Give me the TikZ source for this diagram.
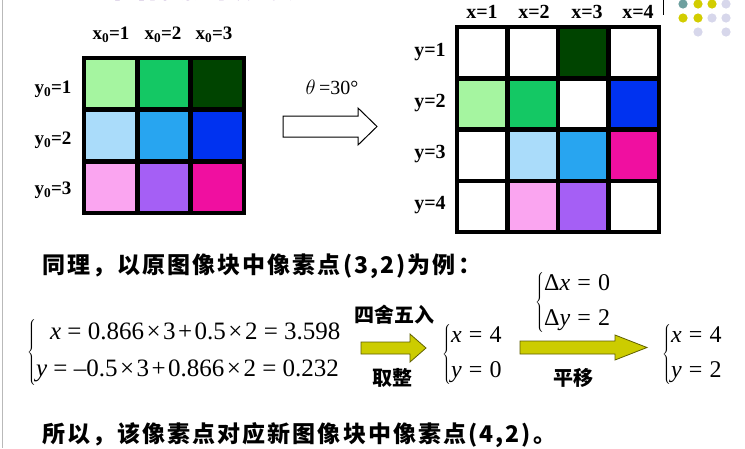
\documentclass[tikz,border=0pt]{standalone}
\usepackage{fontspec}
\setmainfont{Liberation Serif}
\newfontfamily\cjk{Noto Sans CJK SC}
\newfontfamily\cjksp{Noto Sans CJK SC}[LetterSpace=9]
\definecolor{titlepurple}{RGB}{85,30,140}
\definecolor{cLG}{RGB}{165,245,160}
\definecolor{cMG}{RGB}{20,200,100}
\definecolor{cDG}{RGB}{0,68,0}
\definecolor{cLB}{RGB}{170,220,250}
\definecolor{cSB}{RGB}{40,165,240}
\definecolor{cBL}{RGB}{0,50,240}
\definecolor{cLP}{RGB}{250,165,240}
\definecolor{cPU}{RGB}{165,95,245}
\definecolor{cMA}{RGB}{240,15,160}
\definecolor{arrowyellow}{RGB}{204,204,0}
\definecolor{arrowborder}{RGB}{95,95,0}
\definecolor{dotteal}{RGB}{110,160,160}
\definecolor{dotyellow}{RGB}{210,205,0}
\definecolor{dotlav}{RGB}{215,215,235}
\newcommand\qeq{\hspace{0.25em}=\hspace{0.25em}}
\newcommand\qop[1]{\hspace{0.1em}#1\hspace{0.1em}}
\newcommand\weq{\hspace{0.3em}=\hspace{0.3em}}
\begin{document}
\begin{tikzpicture}[x=1pt,y=-1pt,
  glab/.style={font=\bfseries\fontsize{19}{19}\selectfont, inner sep=0pt},
  rlab/.style={font=\bfseries\fontsize{20}{20}\selectfont, inner sep=0pt},
  cjkline/.style={font=\cjksp\bfseries\fontsize{23}{23}\selectfont, inner sep=0pt, anchor=west},
  cjksmall/.style={font=\cjk\bfseries\fontsize{20}{20}\selectfont, inner sep=0pt},
  eqgrp/.style={font=\fontsize{25}{29}\selectfont, inner sep=0pt, anchor=west},
  eqsmall/.style={font=\fontsize{24}{28}\selectfont, inner sep=0pt, anchor=west},
  gridline/.style={line width=4.5pt, line cap=rect},
  yarrow/.style={fill=arrowyellow, draw=arrowborder, line width=0.8pt, line join=miter}]
\useasboundingbox (0,0) rectangle (745,448);
\fill[white] (0,0) rectangle (745,448);
% title (cut off at the top edge)
\node[anchor=base west, text=titlepurple, font=\cjk\bfseries\fontsize{33}{33}\selectfont, inner sep=0pt] (title) at (113,-2.5) {图像旋转变换};
% slide decorations
\draw[gray!55, line width=1.5pt] (2.5,0) -- (2.5,448);
\draw[black, line width=0.8pt] (663,0) -- (663,15);
\fill[dotteal] (683,4) circle (4.6);
\fill[dotyellow] (698,4) circle (4.6);
\fill[dotyellow] (712,4) circle (4.6);
\fill[dotlav] (726,4) circle (4.6);
\fill[dotyellow] (683,18) circle (4.6);
\fill[dotyellow] (698,18) circle (4.6);
\fill[dotlav] (712,18) circle (4.6);
\fill[dotlav] (726,18) circle (4.6);
\fill[dotlav] (698,32) circle (4.6);
\fill[dotlav] (726,32) circle (4.6);
% ---------- left grid ----------
\def\lx{84}\def\ly{58}\def\lw{53.33}\def\lh{51.67}
\foreach \c/\r/\col in {0/0/cLG,1/0/cMG,2/0/cDG,0/1/cLB,1/1/cSB,2/1/cBL,0/2/cLP,1/2/cPU,2/2/cMA}
  \fill[\col] ({\lx+\c*\lw},{\ly+\r*\lh}) rectangle ({\lx+(\c+1)*\lw},{\ly+(\r+1)*\lh});
\foreach \i in {0,...,3} {
  \draw[gridline] ({\lx+\i*\lw},\ly) -- ({\lx+\i*\lw},{\ly+3*\lh});
  \draw[gridline] (\lx,{\ly+\i*\lh}) -- ({\lx+3*\lw},{\ly+\i*\lh});
}
\node[glab] (lx1) at (111,35) {x\textsubscript{0}=1};
\node[glab] (lx2) at (163,35) {x\textsubscript{0}=2};
\node[glab] (lx3) at (214,35) {x\textsubscript{0}=3};
\node[glab] (ly1) at (53,89) {y\textsubscript{0}=1};
\node[glab] (ly2) at (53,140) {y\textsubscript{0}=2};
\node[glab] (ly3) at (53,190) {y\textsubscript{0}=3};
% ---------- hollow arrow ----------
\draw[line width=1pt, fill=white, line join=miter] (283,116) -- (358,116) -- (358,108) -- (377,126.5) -- (358,145) -- (358,137) -- (283,137) -- cycle;
\node[font=\fontsize{20}{20}\selectfont, inner sep=0pt] (theta) at (332,87) {$\theta$\,=30°};
% ---------- right grid ----------
\def\rx{457}\def\ry{27}\def\rw{50.5}\def\rh{51.25}
\foreach \c/\r/\col in {0/0/white,1/0/white,2/0/cDG,3/0/white,
                        0/1/cLG,1/1/cMG,2/1/white,3/1/cBL,
                        0/2/white,1/2/cLB,2/2/cSB,3/2/cMA,
                        0/3/white,1/3/cLP,2/3/cPU,3/3/white}
  \fill[\col] ({\rx+\c*\rw},{\ry+\r*\rh}) rectangle ({\rx+(\c+1)*\rw},{\ry+(\r+1)*\rh});
\foreach \i in {0,...,4} {
  \draw[gridline] ({\rx+\i*\rw},\ry) -- ({\rx+\i*\rw},{\ry+4*\rh});
  \draw[gridline] (\rx,{\ry+\i*\rh}) -- ({\rx+4*\rw},{\ry+\i*\rh});
}
\node[rlab] (rx1) at (482,12) {x=1};
\node[rlab] (rx2) at (534,12) {x=2};
\node[rlab] (rx3) at (587,12) {x=3};
\node[rlab] (rx4) at (638,12) {x=4};
\node[rlab] (ry1) at (430,52) {y=1};
\node[rlab] (ry2) at (430,103) {y=2};
\node[rlab] (ry3) at (430,154) {y=3};
\node[rlab] (ry4) at (430,205) {y=4};
% ---------- lower part ----------
\node[cjkline] (line1) at (42,266) {同理，以原图像块中像素点(3,2)为例：};
\node[eqgrp] (eq1) at (27,352) {$\left\{\begin{tabular}{@{}l@{}}\hspace{14pt}\textit{x}\qeq0.866\qop{×}3\qop{+}0.5\qop{×}2\qeq3.598\\[8pt]\textit{y}\qeq–0.5\qop{×}3\qop{+}0.866\qop{×}2\qeq0.232\end{tabular}\right.$};
\node[cjksmall] (round) at (394,315) {四舍五入};
\node[cjksmall] (trunc) at (392,378) {取整};
\draw[yarrow] (361,342) -- (410,342) -- (410,334) -- (426,348) -- (410,362) -- (410,354) -- (361,354) -- cycle;
\node[eqsmall] (eq2) at (442,354) {$\left\{\begin{tabular}{@{}l@{}}\textit{x}\weq4\\[7pt]\textit{y}\weq0\end{tabular}\right.$};
\node[eqsmall] (eqd) at (535,302) {$\left\{\begin{tabular}{@{}l@{}}Δ\textit{x}\weq0\\[7pt]Δ\textit{y}\weq2\end{tabular}\right.$};
\draw[yarrow] (520,341) -- (615,341) -- (615,335) -- (647,347.5) -- (615,360) -- (615,354) -- (520,354) -- cycle;
\node[cjksmall] (shift) at (573,378) {平移};
\node[eqsmall] (eq3) at (662,354) {$\left\{\begin{tabular}{@{}l@{}}\textit{x}\weq4\\[7pt]\textit{y}\weq2\end{tabular}\right.$};
\node[cjkline] (line3) at (42,435) {所以，该像素点对应新图像块中像素点(4,2)。};
\end{tikzpicture}
\end{document}
